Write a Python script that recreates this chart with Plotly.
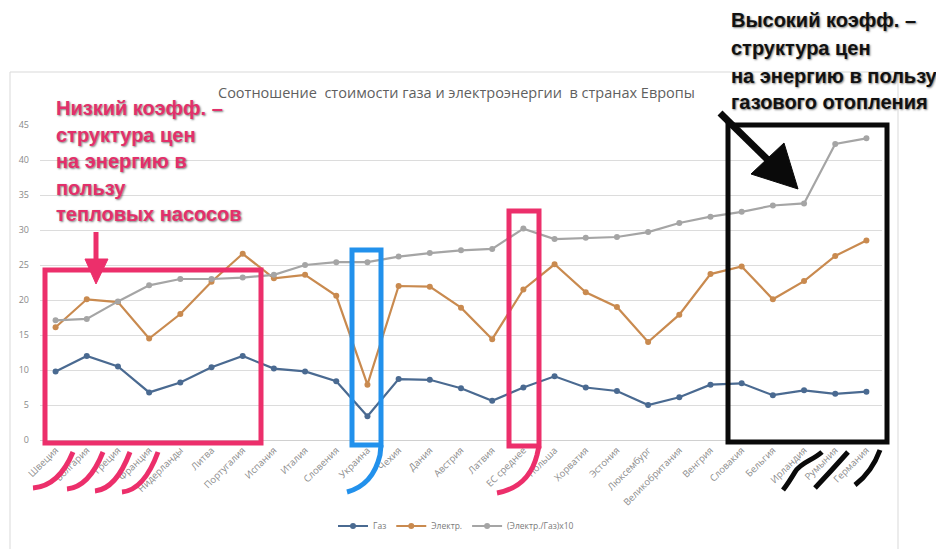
import re
import plotly.graph_objects as go

# ---------------- data ----------------
countries = ["Швеция", "Болгария", "Греция", "Франция", "Нидерланды", "Литва",
             "Португалия", "Испания", "Италия", "Словения", "Украина", "Чехия",
             "Дания", "Австрия", "Латвия", "ЕС среднее", "Польша", "Хорватия",
             "Эстония", "Люксембург", "Великобритания", "Венгрия", "Словакия",
             "Бельгия", "Ирландия", "Румыния", "Германия"]
gas = [9.8, 12.0, 10.5, 6.8, 8.2, 10.4, 12.0, 10.2, 9.8, 8.4, 3.4, 8.7,
       8.6, 7.4, 5.6, 7.5, 9.1, 7.5, 7.0, 5.0, 6.1, 7.9, 8.1, 6.4, 7.1, 6.6, 6.9]
elec = [16.1, 20.1, 19.7, 14.5, 18.0, 22.6, 26.6, 23.1, 23.6, 20.6, 7.9, 22.0,
        21.9, 18.9, 14.4, 21.5, 25.1, 21.1, 19.0, 14.0, 17.9, 23.7, 24.8,
        20.1, 22.7, 26.3, 28.5]
ratio = [17.1, 17.3, 19.8, 22.1, 23.0, 23.0, 23.2, 23.6, 25.0, 25.4, 25.4, 26.2,
         26.7, 27.1, 27.3, 30.2, 28.7, 28.9, 29.0, 29.7, 31.0, 31.9, 32.6,
         33.5, 33.8, 42.3, 43.1]
series_names = ["Газ", "Электр.", "(Электр./Газ)x10"]
y_ticks = [0, 5, 10, 15, 20, 25, 30, 35, 40, 45]
title_text = "Соотношение  стоимости газа и электроэнергии  в странах Европы"
low_text = ["Низкий коэфф. –", "структура цен", "на энергию в", "пользу",
            "тепловых насосов"]
high_text = ["Высокий коэфф. –", "структура цен", "на энергию в пользу",
             "газового отопления"]

# ---------------- geometry helpers ----------------
W, H = 936, 549
PL, PR, PT, PB = 40, 882, 125, 440


def xp(x):
    return (x - PL) / (PR - PL)


def yp(y):
    return (PB - y) / (PB - PT)


def pth(s):
    toks = s.split()
    out, nums = [], []
    for t in toks:
        if re.match(r"^[A-Za-z]$", t):
            out.append(t)
        else:
            nums.append(float(t))
            if len(nums) == 2:
                out.append(f"{xp(nums[0]):.5f},{yp(nums[1]):.5f}")
                nums = []
    return " ".join(out)


PINK = "#ec2f6b"
BLUE = "#2291ec"
BLACK = "#0a0a0a"
colors = ["#4a6a91", "#c98a4f", "#a5a5a5"]

fig = go.Figure()
for name, vals, c in zip(series_names, [gas, elec, ratio], colors):
    fig.add_trace(go.Scatter(
        x=countries, y=vals, mode="lines+markers", name=name,
        line=dict(color=c, width=2.2),
        marker=dict(color=c, size=6),
    ))

shapes = []


def rect(x0, y0, x1, y1, color, w, layer="above"):
    shapes.append(dict(type="rect", xref="paper", yref="paper",
                       x0=xp(x0), x1=xp(x1), y0=yp(y0), y1=yp(y1),
                       line=dict(color=color, width=w), layer=layer))


def stroke(s, color, w=5):
    shapes.append(dict(type="path", xref="paper", yref="paper", path=pth(s),
                       line=dict(color=color, width=w)))


def poly(s, color):
    shapes.append(dict(type="path", xref="paper", yref="paper", path=pth(s),
                       fillcolor=color, line=dict(color=color, width=1)))


# Excel chart frame
rect(10, 72, 898, 620, "#d9d9d9", 1, layer="below")

# boxes
rect(45, 270, 261, 443, PINK, 5)
rect(352, 250, 381, 445, BLUE, 5)
rect(509, 211, 539, 446, PINK, 5)
rect(728, 125, 887, 442, BLACK, 5)

# hooks / underline strokes
stroke("M 381 445 L 380 455 Q 373 485 347 492", BLUE)
stroke("M 539 446 L 537 455 Q 529 487 497 493", PINK)
for top, bot in [((73, 452), (33, 488)), ((103, 452), (67, 489)),
                 ((130, 452), (95, 491)), ((158, 452), (122, 492))]:
    stroke(f"M {top[0]} {top[1]} Q {top[0]-14} {bot[1]-2} {bot[0]} {bot[1]}", PINK)
stroke("M 822 452 C 812 461 801 462 795 472 S 787 485 783 490", BLACK)
stroke("M 848 452 Q 832 470 815 488", BLACK)
stroke("M 880 450 Q 872 472 855 485", BLACK)

# pink arrow (vertical)
stroke("M 96 232 L 96 262", PINK, 5)
poly("M 85 259 L 108 259 L 96 284 Z", PINK)

# black arrow (diagonal)
stroke("M 720 113 L 770 162", BLACK, 7)
poly("M 751 174 L 784 143 L 798 189 Z", BLACK)

annotations = []
annotations.append(dict(xref="paper", yref="paper", x=xp(456), y=yp(93),
                        text=title_text, showarrow=False, xanchor="center",
                        yanchor="middle",
                        font=dict(family="Open Sans, Liberation Sans, sans-serif",
                                  size=14.5, color="#5f5f5f")))
shadow = "1px 1px 2px rgba(0,0,0,0.5)"
for txt, yc in zip(low_text, [108, 135, 161, 188, 214]):
    annotations.append(dict(xref="paper", yref="paper", x=xp(54), y=yp(yc),
                            text=f"<b>{txt}</b>", showarrow=False,
                            xanchor="left", yanchor="middle",
                            font=dict(family="Liberation Sans, Arial, sans-serif",
                                      size=20, color="#e2306b", shadow=shadow)))
for txt, yc in zip(high_text, [20, 48, 76, 102]):
    annotations.append(dict(xref="paper", yref="paper", x=xp(729), y=yp(yc),
                            text=f"<b>{txt}</b>", showarrow=False,
                            xanchor="left", yanchor="middle",
                            font=dict(family="Liberation Sans, Arial, sans-serif",
                                      size=20, color="#111111", shadow=shadow)))

fig.update_layout(
    width=W, height=H,
    margin=dict(l=PL, r=W - PR, t=PT, b=H - PB, autoexpand=False),
    paper_bgcolor="white", plot_bgcolor="white",
    font=dict(family="Open Sans, Liberation Sans, sans-serif", color="#8a8a8a"),
    showlegend=True,
    legend=dict(orientation="h", x=xp(456), xanchor="center", y=yp(526),
                yanchor="middle", font=dict(size=8.5, color="#7a7a7a"),
                itemwidth=30, bgcolor="rgba(0,0,0,0)", tracegroupgap=0),
    xaxis=dict(type="category", range=[-0.5, len(countries) - 0.5],
               showgrid=False, showline=True, linecolor="#d0d0d0", linewidth=1,
               tickangle=-45, tickfont=dict(size=9.5, color="#8c8c8c"),
               ticks="", automargin=False, fixedrange=True),
    yaxis=dict(range=[0, 45], tickvals=y_ticks, showgrid=True,
               gridcolor="#dcdcdc", gridwidth=1, zeroline=False,
               tickfont=dict(size=9, color="#8a8a8a"), ticks="",
               ticklabelstandoff=10, automargin=False, fixedrange=True),
    shapes=shapes,
    annotations=annotations,
)

fig.write_html("out.html", config={"displayModeBar": False},
               post_script="document.body.style.margin='0';document.body.style.overflow='hidden';")
